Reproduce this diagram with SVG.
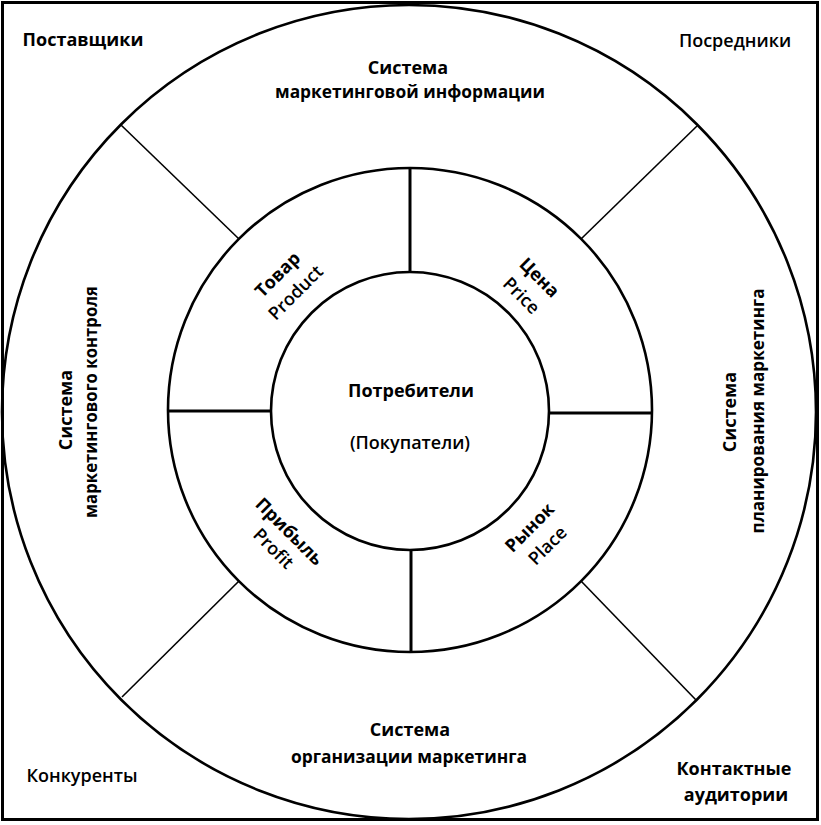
<svg xmlns="http://www.w3.org/2000/svg" width="821" height="825" viewBox="0 0 821 825">
<style>
  text { font-family: "Open Sans", "DejaVu Sans", sans-serif; font-size: 18px; fill: #000; text-anchor: middle; dominant-baseline: central; }
  .b { font-weight: 700; }
  .r { font-weight: 600; }
  .ring { fill: none; stroke: #000; stroke-width: 2.6; }
  .spoke { stroke: #000; stroke-width: 3; fill: none; }
  .diag { stroke: #000; stroke-width: 1.6; fill: none; }
</style>
<rect x="0" y="0" width="821" height="825" fill="#fff"/>
<g id="frame">
  <rect x="2.5" y="2.5" width="815" height="817" fill="none" stroke="#000" stroke-width="3"/>
</g>
<g id="outer-ring">
  <circle class="ring" cx="409" cy="412" r="407"/>
</g>
<g id="middle-ring">
  <circle class="ring" cx="410" cy="410" r="242"/>
</g>
<g id="connectors">
  <line class="spoke" x1="410" y1="168" x2="410" y2="273"/>
  <line class="spoke" x1="411" y1="549" x2="411" y2="652"/>
  <line class="spoke" x1="168" y1="411" x2="272" y2="411"/>
  <line class="spoke" x1="549" y1="413" x2="652" y2="413"/>
  <line class="diag" x1="239" y1="239" x2="121" y2="125"/>
  <line class="diag" x1="581" y1="239" x2="697" y2="126"/>
  <line class="diag" x1="239" y1="581" x2="122" y2="697"/>
  <line class="diag" x1="581" y1="581" x2="696" y2="700"/>
</g>
<g id="consumers">
  <circle class="ring" cx="410" cy="411" r="139"/>
  <text class="b" x="411" y="390">Потребители</text>
  <text class="r" x="410" y="442">(Покупатели)</text>
</g>
<g id="product">
  <text class="b" transform="translate(277,274) rotate(-45)">Товар</text>
  <text class="r" transform="translate(295,292) rotate(-45)">Product</text>
</g>
<g id="price">
  <text class="b" transform="translate(540,277) rotate(45)">Цена</text>
  <text class="r" transform="translate(522,295) rotate(45)">Price</text>
</g>
<g id="profit">
  <text class="b" transform="translate(290,531) rotate(45)">Прибыль</text>
  <text class="r" transform="translate(274,548) rotate(45)">Profit</text>
</g>
<g id="place">
  <text class="b" transform="translate(529,527) rotate(-45)">Рынок</text>
  <text class="r" transform="translate(547,545) rotate(-45)">Place</text>
</g>
<g id="info-system">
  <text class="b" x="408" y="67">Система</text>
  <text class="b" x="410" y="91" textLength="270" lengthAdjust="spacingAndGlyphs">маркетинговой информации</text>
</g>
<g id="org-system">
  <text class="b" x="410" y="729">Система</text>
  <text class="b" x="409" y="756" textLength="236" lengthAdjust="spacingAndGlyphs">организации маркетинга</text>
</g>
<g id="control-system">
  <text class="b" transform="translate(65,410) rotate(-90)">Система</text>
  <text class="b" transform="translate(90,402) rotate(-90)" textLength="232" lengthAdjust="spacingAndGlyphs">маркетингового контроля</text>
</g>
<g id="planning-system">
  <text class="b" transform="translate(729,412) rotate(-90)">Система</text>
  <text class="b" transform="translate(757,411) rotate(-90)" textLength="245" lengthAdjust="spacingAndGlyphs">планирования маркетинга</text>
</g>
<g id="suppliers">
  <text class="b" x="83" y="39">Поставщики</text>
</g>
<g id="intermediaries">
  <text class="r" x="735" y="40">Посредники</text>
</g>
<g id="competitors">
  <text class="r" x="82" y="775">Конкуренты</text>
</g>
<g id="contact-audiences">
  <text class="b" x="734" y="768">Контактные</text>
  <text class="b" x="736" y="794">аудитории</text>
</g>
</svg>
